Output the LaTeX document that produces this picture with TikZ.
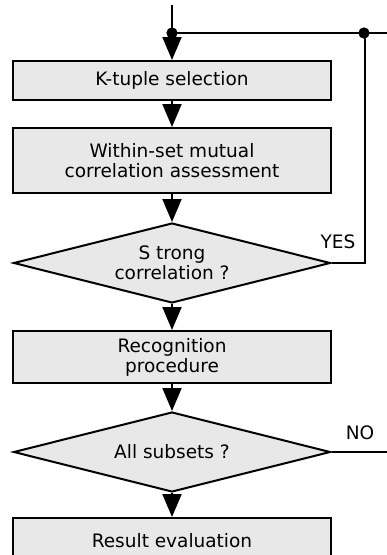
\documentclass[tikz,border=0pt]{standalone}
\usepackage{fontspec}
\setmainfont{DejaVu Sans}
\usetikzlibrary{shapes.geometric,arrows.meta}
\definecolor{boxfill}{HTML}{E8E8E8}
\tikzset{
  base/.style={draw=black, line width=2pt, fill=boxfill, inner sep=0pt, align=center,
    font=\fontsize{18.5}{20}\selectfont},
  procbox/.style={base, rectangle, minimum width=318pt},
  decision/.style={base, diamond, minimum width=317pt, minimum height=80pt, aspect=3.96},
  flow/.style={line width=2pt, -{Triangle[width=19pt,length=23pt]}},
  plain/.style={line width=2pt},
  dot/.style={circle, fill=black, inner sep=0pt, minimum size=11pt},
  lbl/.style={font=\fontsize{18.5}{20}\selectfont, inner sep=0pt}
}
\begin{document}
\begin{tikzpicture}[x=1pt,y=-1pt]
\useasboundingbox (0,0) rectangle (387,555);
\clip (0,0) rectangle (387,555);
\coordinate (top) at (172,5);
\node[dot] (j1) at (172,33) {};
\node[dot] (j2) at (364,33) {};
\coordinate (rend) at (390,33);
\node[procbox, minimum height=39pt] (b1) at (172,80.5) {K-tuple selection};
\node[procbox, minimum height=65pt] (b2) at (172,160.5) {Within-set mutual\\correlation assessment};
\node[decision] (d1) at (172,263) {S trong\\correlation ?};
\node[procbox, minimum height=52pt] (b3) at (172,357) {Recognition\\procedure};
\node[decision] (d2) at (172,452) {All subsets ?};
\node[procbox, minimum height=46pt] (b4) at (172,541) {Result evaluation};
\coordinate (noend) at (390,452);
\coordinate (c1) at (365,263);
\node[lbl] (yes) at (338,242) {YES};
\node[lbl] (no) at (360,433) {NO};

\draw[plain] (top) -- (j1.center);
\draw[plain] (j1.center) -- (rend);
\draw[plain] (d1.east) -- (c1) -- (c1 |- j2.center);
\draw[flow] (j1.center) -- (b1.north);
\draw[flow] (b1.south) -- (b2.north);
\draw[flow] (b2.south) -- (d1.north);
\draw[flow] (d1.south) -- (b3.north);
\draw[flow] (b3.south) -- (d2.north);
\draw[flow] (d2.south) -- (b4.north);
\draw[plain] (d2.east) -- (noend);
\node[dot] at (j1) {};
\node[dot] at (j2) {};
\end{tikzpicture}
\end{document}
